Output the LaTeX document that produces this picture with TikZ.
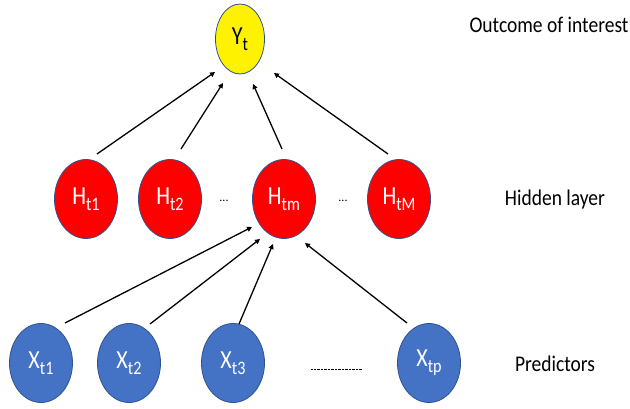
\documentclass[tikz,border=0pt]{standalone}
\usepackage{fontspec}
\setmainfont{Carlito}
\usetikzlibrary{shapes.geometric,arrows.meta,calc}
\definecolor{edgeblue}{HTML}{2F528F}
\definecolor{xblue}{HTML}{4472C4}
\tikzset{
  nd/.style={ellipse, draw=edgeblue, line width=0.8pt, minimum width=63pt, minimum height=79pt, inner sep=0pt, font=\fontsize{26}{28}\selectfont},
  ynode/.style={nd, fill=yellow, minimum width=49pt, minimum height=70pt, text=black},
  hnode/.style={nd, fill=red, text=white},
  xnode/.style={nd, fill=xblue, text=white},
  lbl/.style={font=\fontsize{19.5}{21}\selectfont, text=black},
  conn/.style={line width=1.3pt, -{Triangle[length=5pt,width=5pt]}},
  dots/.style={font=\fontsize{12}{12}\selectfont}
}
\newcommand{\sbs}[1]{\raisebox{-6pt}{\fontsize{19}{20}\selectfont #1}}
\newcommand{\nlab}[2]{\scalebox{0.85}[1]{#1\sbs{#2}}}
\newcommand{\tall}[1]{\scalebox{1}[1.15]{#1}}
\begin{document}
\begin{tikzpicture}[x=1pt,y=-1pt]
\useasboundingbox (0,0) rectangle (630,409);
\node[ynode] (y) at (240,39) {\nlab{Y}{t}};
\node[hnode] (h1) at (86,199) {\nlab{H}{t1}};
\node[hnode] (h2) at (170,199) {\nlab{H}{t2}};
\node[hnode] (hm) at (284,199) {\nlab{H}{tm}};
\node[hnode] (hM) at (399,199) {\nlab{H}{tM}};
\node[xnode] (x1) at (41,363) {\nlab{X}{t1}};
\node[xnode] (x2) at (129,363) {\nlab{X}{t2}};
\node[xnode] (x3) at (233,363) {\nlab{X}{t3}};
\node[xnode] (xp) at (429,363) {\nlab{X}{tp}};
\node[dots] (d1) at (224,201) {...};
\node[dots] (d2) at (343,201) {...};
\coordinate (da) at (311,369);
\coordinate (db) at (362,369);
\draw[line width=0.8pt, dash pattern=on 0.8pt off 0.6pt] (da) -- (db);
\node[lbl] (l1) at (549,25) {\tall{Outcome of interest}};
\node[lbl] (l2) at (555,200) {\tall{Hidden layer}};
\node[lbl] (l3) at (555,364) {\tall{Predictors}};
% hidden -> outcome
\draw[conn] ($(h1)+(11,-45)$) -- ($(y)+(-25,33)$);
\draw[conn] ($(h2)+(11,-50)$) -- ($(y)+(-17,44)$);
\draw[conn] ($(hm)+(-2,-50)$) -- ($(y)+(13,45)$);
\draw[conn] ($(hM)+(-11,-45)$) -- ($(y)+(34,34)$);
% predictors -> hidden
\draw[conn] ($(x1)+(24,-40)$) -- ($(hm)+(-32,28)$);
\draw[conn] ($(x2)+(21,-39)$) -- ($(hm)+(-24,40)$);
\draw[conn] ($(x3)+(6,-39)$) -- ($(hm)+(-11,45)$);
\draw[conn] ($(xp)+(-22,-40)$) -- ($(hm)+(21,44)$);
\end{tikzpicture}
\end{document}
